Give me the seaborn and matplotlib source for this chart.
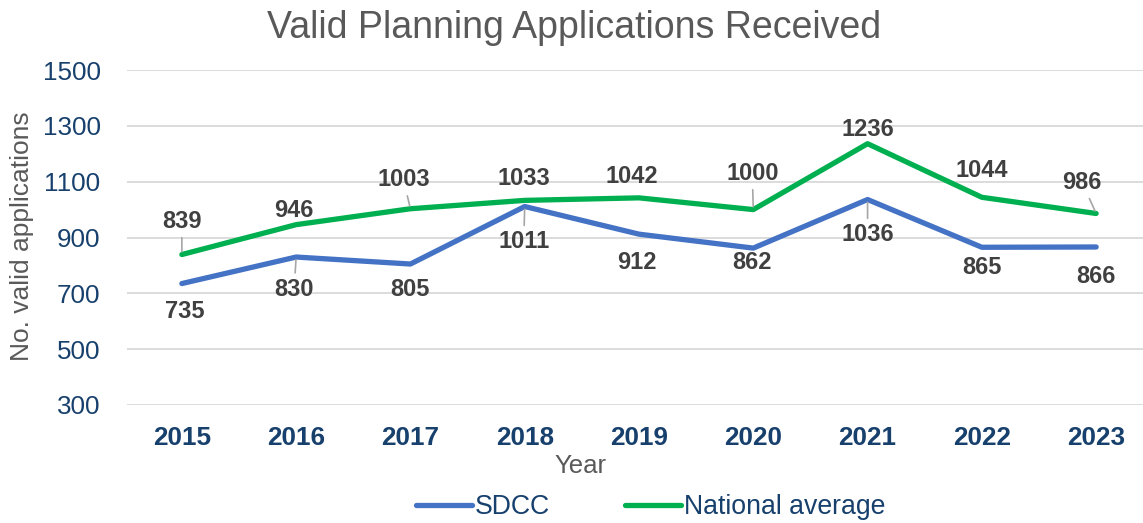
import matplotlib
matplotlib.use("Agg")
import matplotlib.pyplot as plt
import seaborn as sns
import pandas as pd

years = ["2015", "2016", "2017", "2018", "2019", "2020", "2021", "2022", "2023"]
sdcc = [735, 830, 805, 1011, 912, 862, 1036, 865, 866]
national = [839, 946, 1003, 1033, 1042, 1000, 1236, 1044, 986]
series_names = ["SDCC", "National average"]
y_ticks = [300, 500, 700, 900, 1100, 1300, 1500]

# label offsets in pixels (dx, dy) and whether a leader line is drawn
nat_offsets = [(0, 33, True), (-2, 14, False), (-7, 29, True), (-1, 22, False), (-7, 21, False),
               (-1, 36, True), (0, 14, False), (0, 27, False), (-14, 31, True)]
sdcc_offsets = [(3, -28, False), (-2, -32, True), (0, -25, False), (-1, -35, True), (-2, -28, False),
                (-1, -14, False), (0, -35, True), (0, -20, False), (0, -30, False)]

df = pd.DataFrame({
    "Year": years * 2,
    "Value": sdcc + national,
    "Series": [series_names[0]] * len(years) + [series_names[1]] * len(years),
})

sns.set_theme(style="white")
plt.rcParams["font.family"] = ["Liberation Sans", "DejaVu Sans"]

W, H = 1143, 523
fig = plt.figure(figsize=(W / 100, H / 100), dpi=100)
ax = fig.add_axes([127 / W, 1 - 405 / H, (W - 127) / W, (405 - 70) / H])

palette = {"SDCC": "#4472C4", "National average": "#00B050"}
sns.lineplot(data=df, x="Year", y="Value", hue="Series", palette=palette,
             linewidth=3.8, sort=False, ax=ax, legend=False)

ax.set_ylim(300, 1500)
ax.set_yticks(y_ticks)
ax.set_xlim(-0.48, 8.41)
for s in ax.spines.values():
    s.set_visible(False)
ax.grid(axis="y", color="#d9d9d9", linewidth=1.3)
ax.set_axisbelow(True)
ax.tick_params(axis="y", length=0, pad=19, labelsize=18.7)
ax.tick_params(axis="x", length=0, pad=15, labelsize=18.8)
for t in ax.get_xticklabels():
    t.set_fontweight("bold")
    t.set_color("#17406d")
for t in ax.get_yticklabels():
    t.set_color("#17406d")

ax.set_ylabel("No. valid applications", fontsize=19, color="#595959", va="center")
ax.yaxis.set_label_coords(-0.103, 0.505)
ax.set_xlabel("Year", fontsize=18.5, color="#595959", va="center")
ax.xaxis.set_label_coords(0.446, -0.182)

fig.suptitle("Valid Planning Applications Received", x=574 / W, y=1 - 28 / H,
             va="center", fontsize=27, color="#595959")

def annotate(values, offsets):
    for i, (v, (dx, dy, leader)) in enumerate(zip(values, offsets)):
        kw = {}
        if leader:
            kw["arrowprops"] = dict(arrowstyle="-", color="#a6a6a6", lw=1.2,
                                    shrinkA=1, shrinkB=2)
        ax.annotate(str(v), xy=(i, v), xytext=(dx, dy), textcoords="offset pixels",
                    ha="center", va="center", fontsize=17, fontweight="bold",
                    color="#404040", **kw)

annotate(national, nat_offsets)
annotate(sdcc, sdcc_offsets)

handles = [plt.Line2D([], [], color=palette[n], linewidth=3.8) for n in series_names]
leg = fig.legend(handles, series_names, loc="center", bbox_to_anchor=(0.569, 0.03),
                 ncol=2, frameon=False, fontsize=19.2, handlelength=2.1,
                 handletextpad=0.12, columnspacing=2.8, borderpad=0.1)
for t in leg.get_texts():
    t.set_color("#17406d")

fig.savefig("out.png", dpi=100)
